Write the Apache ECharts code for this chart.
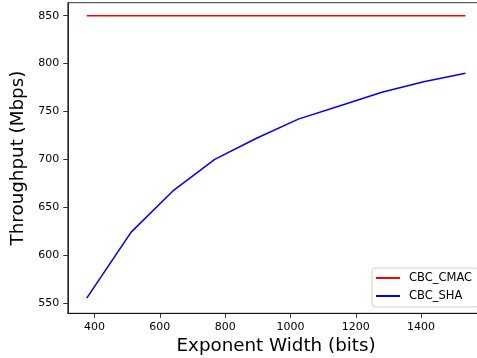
<!DOCTYPE html>
<html>
<head>
<meta charset="utf-8">
<script src="https://cdn.jsdelivr.net/npm/echarts@6/dist/echarts.min.js"></script>
<style>html,body{margin:0;padding:0;background:#fff;overflow:hidden}#c{width:477px;height:358px}</style>
</head>
<body>
<div id="c"></div>
<script>
const widths = [376, 512, 640, 768, 896, 1024, 1152, 1280, 1408, 1536];
const cmac = [850, 850, 850, 850, 850, 850, 850, 850, 850, 850];
const sha = [555, 624, 667, 700, 722, 742, 756, 770, 781, 790];
const xTicks = [400, 600, 800, 1000, 1200, 1400];
const yTicks = [550, 600, 650, 700, 750, 800, 850];

const font = 'DejaVu Sans';
const chart = echarts.init(document.getElementById('c'), null, {renderer: 'canvas'});
chart.setOption({
  animation: false,
  textStyle: {fontFamily: font},
  grid: {left: 67.8, width: 416.6, top: 2.7, height: 310.6, outerBoundsMode: 'none', containLabel: false,
         show: true, borderColor: '#000', borderWidth: 0.8, backgroundColor: 'transparent'},
  legend: {
    orient: 'vertical', left: 372, top: 268,
    data: ['CBC_CMAC', 'CBC_SHA'],
    icon: 'rect', itemWidth: 24, itemHeight: 2, itemGap: 6,
    borderColor: '#d0d0d0', borderWidth: 1, borderRadius: 3,
    padding: [4, 6, 5, 4],
    backgroundColor: 'rgba(255,255,255,0.8)',
    textStyle: {fontFamily: font, fontSize: 11.5, lineHeight: 11, color: '#000', padding: [0, 0, 0, 4]}
  },
  xAxis: {
    type: 'value', min: 318, max: 1594,
    name: 'Exponent Width (bits)', nameLocation: 'middle', nameGap: 23,
    nameTextStyle: {fontFamily: font, fontSize: 18.3, color: '#000'},
    axisLine: {show: true, lineStyle: {color: '#000', width: 0.8}},
    axisTick: {show: true, inside: false, length: 4.5, customValues: xTicks, lineStyle: {color: '#000', width: 0.8}},
    axisLabel: {customValues: xTicks, margin: 8, fontFamily: font, fontSize: 11, color: '#000', formatter: v => String(v)},
    splitLine: {show: false}
  },
  yAxis: {
    type: 'value', min: 539.2, max: 863.6,
    name: 'Throughput (Mbps)', nameLocation: 'middle', nameGap: 36,
    nameTextStyle: {fontFamily: font, fontSize: 18.3, color: '#000'},
    axisLine: {show: true, lineStyle: {color: '#000', width: 0.8}},
    axisTick: {show: true, inside: false, length: 4.5, customValues: yTicks, lineStyle: {color: '#000', width: 0.8}},
    axisLabel: {customValues: yTicks, margin: 8.5, fontFamily: font, fontSize: 11, color: '#000', formatter: v => String(v)},
    splitLine: {show: false}
  },
  series: [
    {name: 'CBC_CMAC', type: 'line', showSymbol: false, symbol: 'none',
     data: widths.map((w, i) => [w, cmac[i]]), lineStyle: {color: '#ff0000', width: 1.55}, itemStyle: {color: '#ff0000'}},
    {name: 'CBC_SHA', type: 'line', showSymbol: false, symbol: 'none',
     data: widths.map((w, i) => [w, sha[i]]), lineStyle: {color: '#0000ff', width: 1.55}, itemStyle: {color: '#0000ff'}}
  ]
});
</script>
</body>
</html>
